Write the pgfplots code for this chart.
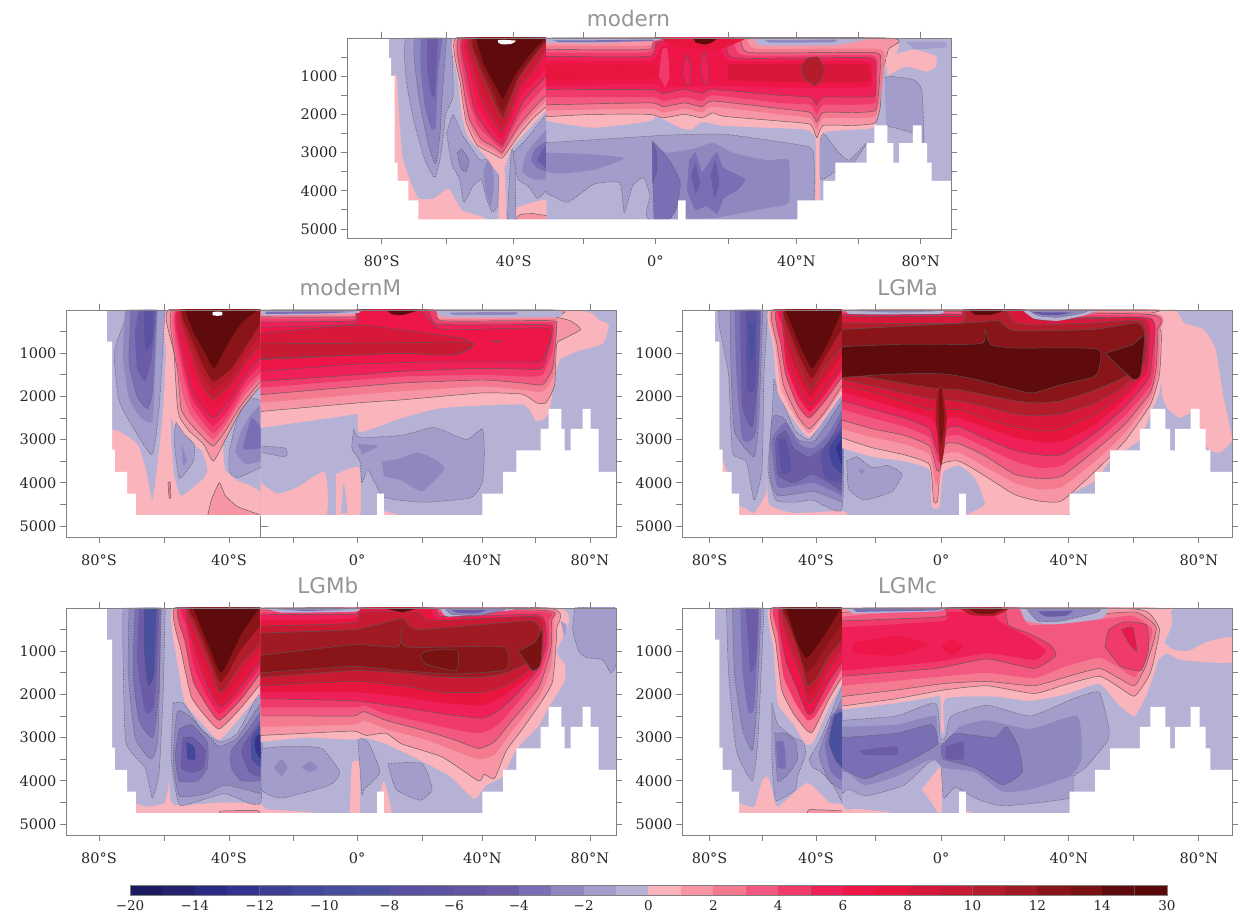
\documentclass[border=0pt]{standalone}
\usepackage{fontspec}
\setmainfont{DejaVu Serif}
\newfontfamily\tf{DejaVu Sans}
\usepackage{pgfplots}
\pgfplotsset{compat=1.18}
\definecolor{b1}{HTML}{B5B2D6}\definecolor{b2}{HTML}{A29DCB}\definecolor{b3}{HTML}{8E88BE}\definecolor{b4}{HTML}{7A6FB4}
\definecolor{b5}{HTML}{6C5CA8}\definecolor{b6}{HTML}{6355A4}\definecolor{b7}{HTML}{5B52A2}\definecolor{b8}{HTML}{4A4F9E}
\definecolor{b9}{HTML}{43479B}\definecolor{b10}{HTML}{32328F}\definecolor{b11}{HTML}{2A2A85}\definecolor{b12}{HTML}{22226F}
\definecolor{b13}{HTML}{1B1B62}\definecolor{b14}{HTML}{474EA0}\definecolor{b15}{HTML}{5850A0}\definecolor{b16}{HTML}{3D3F97}
\definecolor{r1}{HTML}{FAB4BC}\definecolor{r2}{HTML}{F795A5}\definecolor{r3}{HTML}{F47A90}\definecolor{r4}{HTML}{F25880}
\definecolor{r5}{HTML}{F03A6A}\definecolor{r6}{HTML}{EF2058}\definecolor{r7}{HTML}{EE1548}\definecolor{r8}{HTML}{E8153F}
\definecolor{r9}{HTML}{D8183A}\definecolor{r10}{HTML}{C81A32}\definecolor{r11}{HTML}{B21C2B}\definecolor{r12}{HTML}{A01A24}
\definecolor{r13}{HTML}{8A1518}\definecolor{r14}{HTML}{7A1212}\definecolor{r15}{HTML}{5F0A0C}\definecolor{r16}{HTML}{5A0808}
\newcommand{\Q}[2]{\addplot[fill=#1,draw=none] coordinates {#2};}
\newcommand{\F}[2]{\addplot[smooth,tension=.3,fill=#1,draw=none] coordinates {#2};}
\newcommand{\K}[2]{\addplot[smooth,tension=.3,fill=#1,draw=black!65,line width=.45pt] coordinates {#2};}
\newcommand{\D}[2]{\addplot[smooth,tension=.3,fill=#1,draw=black!65,line width=.45pt,dash pattern=on 1.4pt off 1.2pt] coordinates {#2};}
\pgfplotsset{pan/.style={scale only axis,y dir=reverse,axis on top,ymin=0,
  ytick={1000,2000,3000,4000,5000},minor ytick={500,1500,2500,3500,4500},
  tick align=outside,major tick length=6pt,minor tick length=6pt,
  axis line style={gray,line width=.8pt},every tick/.style={gray,line width=.8pt},
  every minor tick/.style={gray,line width=.8pt},
  tick label style={font=\fontsize{14.5}{16}\selectfont,text=black!85},
  xticklabel style={yshift=-8pt},
  yticklabel style={/pgf/number format/assume math mode=true,/pgf/number format/1000 sep={}},
  xticklabels={80°S,,40°S,,0°,,40°N,,80°N},
  title style={font=\tf\fontsize{21.5}{24}\selectfont,text=black!42,anchor=south,inner sep=0pt,yshift=8pt}},
 lpan/.style={pan,width=550pt,height=227pt,xmin=163,xmax=1533,ymax=5255,xtick={245,407,569,730,888,1050,1200,1332,1468}},
 rpan/.style={pan,width=550pt,height=227pt,xmin=157,xmax=1552,ymax=5255,xtick={227,362,497,648,814,974,1138,1303,1468}}}
\newcommand{\landTop}{\Q{white}{(130,0)(226,0)(226,520)(232,520)(232,1000)(240,1000)(240,3260)(247,3260)(247,3740)(272,3740)(272,4250)(295,4250)(295,4750)(895,4750)(895,4250)(912,4250)(912,4750)(1170,4750)(1170,4250)(1230,4250)(1230,3740)(1258,3740)(1258,3260)(1330,3260)(1330,2750)(1348,2750)(1348,2290)(1378,2290)(1378,2750)(1392,2750)(1392,3260)(1405,3260)(1405,2750)(1437,2750)(1437,2290)(1457,2290)(1457,2750)(1470,2750)(1470,3260)(1480,3260)(1480,3740)(1525,3740)(1525,5300)(130,5300)}}
\newcommand{\landL}{\Q{white}{(163,0)(265,0)(265,730)(278,730)(278,3230)(285,3230)(285,3750)(315,3750)(315,4250)(337,4250)(337,4750)(938,4750)(938,4250)(955,4250)(955,4750)(1200,4750)(1200,4250)(1252,4250)(1252,3750)(1285,3750)(1285,3250)(1345,3250)(1345,2750)(1365,2750)(1365,2290)(1397,2290)(1397,2750)(1405,2750)(1405,3250)(1420,3250)(1420,2750)(1450,2750)(1450,2290)(1470,2290)(1470,2750)(1490,2750)(1490,3750)(1533,3750)(1533,5300)(163,5300)}}
\newcommand{\landR}{\Q{white}{(157,0)(240,0)(240,730)(252,730)(252,3230)(260,3230)(260,3750)(283,3750)(283,4250)(302,4250)(302,4750)(860,4750)(860,4250)(877,4250)(877,4750)(1140,4750)(1140,4250)(1205,4250)(1205,3750)(1243,3750)(1243,3250)(1318,3250)(1318,2750)(1345,2750)(1345,2290)(1383,2290)(1383,2750)(1395,2750)(1395,3250)(1408,3250)(1408,2750)(1447,2750)(1447,2290)(1470,2290)(1470,2750)(1485,2750)(1485,3250)(1497,3250)(1497,3750)(1552,3750)(1552,5300)(157,5300)}}
\newcommand{\B}[3]{\addplot[fill=#3,draw=gray!50!#3,line width=.3pt] coordinates {(#1,0)(#2,0)(#2,1)(#1,1)};}
\begin{document}
\begin{tikzpicture}[x=1pt,y=1pt]
\path[use as bounding box] (0,0) rectangle (1239,916);
%% ---------- modern
\begin{axis}[pan,at={(347pt,678pt)},anchor=south west,width=604pt,height=200pt,xmin=130,xmax=1525,ymax=5236,
 xtick={210,360,515,675,842,1012,1168,1312,1455},title={modern},title style={at={(axis description cs:.466,1)},yshift=-3pt}]
\Q{b1}{(226,0)(1525,0)(1525,5000)(226,5000)}
\F{r1}{(232,1000)(245,1000)(250,2000)(258,3100)(275,3700)(295,4200)(330,4200)(365,3950)(395,4500)(450,4750)(225,4800)}
\F{r1}{(480,4800)(482,3600)(488,3100)(495,3600)(498,4800)}
\F{r1}{(520,4800)(522,4450)(560,4300)(590,4250)(590,4800)}
\K{r2}{(590,4650)(560,4600)(530,4620)(522,4800)(590,4800)}
\D{b2}{(372,0)(375,1500)(358,2000)(348,3000)(333,3650)(310,3200)(285,2200)(268,1200)(262,400)(265,0)}
\D{b3}{(360,0)(350,1500)(345,2500)(335,3300)(318,2800)(295,1500)(285,500)(285,0)}
\F{b4}{(350,0)(340,1000)(335,2300)(325,2400)(310,1800)(300,800)(300,0)}
\F{b5}{(340,0)(338,500)(333,1500)(325,1500)(315,800)(315,0)}
\D{b2}{(360,2500)(375,2000)(395,2500)(430,3100)(440,3200)(480,3100)(480,3500)(478,4400)(465,4550)(452,4200)(440,3700)(420,3900)(400,4300)(390,3700)(372,3300)(360,2500)}
\D{b3}{(385,3000)(395,2900)(412,3200)(405,3500)(392,3400)(385,3000)}
\F{b3}{(445,3500)(460,3100)(470,3800)(462,4400)(450,4000)}
\D{b2}{(500,4800)(505,3700)(510,2900)(518,3200)(520,4800)}
\D{b2}{(590,4000)(570,4200)(550,3900)(525,3700)(518,3300)(515,3000)(540,2700)(590,2000)}
\F{b3}{(590,3700)(560,3700)(535,3500)(545,3000)(590,2400)}
\F{b4}{(590,3500)(570,3400)(555,3200)(565,2900)(590,2700)}
\F{b5}{(590,3400)(570,3200)(578,3000)(590,2800)}
\F{r1}{(590,1900)(540,2500)(510,2900)(485,3600)(450,3100)(410,2600)(395,2000)(385,1000)(378,0)(590,0)}
\K{r2}{(590,1800)(560,2100)(530,2500)(505,2900)(488,3150)(470,3050)(430,2800)(405,2200)(392,1200)(382,0)(590,0)}
\F{r3}{(590,1650)(560,1975)(530,2375)(505,2800)(488,3075)(470,2950)(435,2725)(408,2150)(395,1200)(386,0)(590,0)}
\K{r4}{(590,1500)(560,1850)(530,2250)(505,2700)(488,3000)(470,2850)(440,2650)(412,2100)(398,1200)(390,0)(590,0)}
\F{r5}{(590,1250)(562,1575)(532,1975)(507,2500)(488,2900)(462,2650)(432,2280)(410,1550)(395,0)(590,0)}
\K{r6}{(590,1000)(565,1300)(535,1700)(510,2300)(488,2800)(455,2450)(425,1900)(408,1000)(400,0)(590,0)}
\F{r7}{(590,800)(565,1100)(533,1500)(510,2130)(488,2650)(460,2300)(432,1750)(414,900)(405,0)(590,0)}
\K{r9}{(590,300)(565,800)(530,1300)(510,1900)(488,2450)(465,2100)(440,1600)(420,800)(410,0)(590,0)}
\F{r10}{(590,250)(560,750)(528,1230)(508,1830)(489,2340)(470,1980)(447,1470)(425,750)(414,0)(590,0)}
\K{r12}{(590,100)(555,600)(525,1100)(505,1700)(490,2100)(475,1800)(455,1300)(432,700)(420,0)(590,0)}
\F{r13}{(590,70)(555,530)(525,1020)(504,1570)(490,1930)(477,1650)(460,1200)(438,680)(424,0)(590,0)}
\F{r15}{(588,0)(555,400)(525,850)(503,1300)(490,1600)(480,1400)(465,1100)(445,650)(428,0)}
\F{white}{(478,60)(490,50)(520,70)(510,150)(490,170)(480,130)}
%% right sector
\D{b2}{(590,4050)(640,4300)(700,3830)(760,3790)(770,4570)(790,3870)(815,3650)(830,4130)(835,4800)(1170,4800)(1208,4250)(1208,3090)(1190,2830)(1000,2520)(850,2550)(830,2570)(590,2740)}
\F{b3}{(590,3500)(620,3550)(700,3450)(770,3150)(700,3050)(590,3000)}
\F{b3}{(835,2800)(870,3000)(930,2900)(975,2750)(1020,3000)(1100,3200)(1150,3200)(1150,4300)(1100,4450)(985,4700)(910,4700)(880,4000)(835,3800)}
\D{b4}{(835,2700)(860,3000)(880,3300)(900,3800)(890,4500)(870,4800)(840,4800)(835,2700)}
\F{b4}{(920,3200)(935,3000)(950,3500)(975,3100)(985,3000)(1000,3400)(1050,3700)(1030,4000)(1000,4200)(985,4600)(960,4400)(935,4500)(915,4000)}
\D{b5}{(835,2700)(845,3000)(845,3500)(835,3800)}
\F{b5}{(925,3600)(935,3300)(945,3800)(935,4100)}
\F{b5}{(970,3600)(980,3200)(990,3800)(978,4200)}
\D{b2}{(1265,3000)(1230,2500)(1215,3000)(1225,3700)(1258,3500)(1300,3260)(1330,2750)(1290,3200)(1265,3000)}
\F{r1}{(590,2170)(700,2350)(830,2180)(845,2050)(900,2350)(925,2400)(950,2200)(1000,2300)(1100,2350)(1190,2400)(1212,2650)(1212,4250)(1222,4250)(1222,2650)(1240,2450)(1300,2400)(1350,2300)(1360,1000)(1380,0)(590,0)}
\K{r2}{(590,2060)(700,2000)(830,2000)(860,2090)(910,2000)(950,2090)(975,1960)(1000,2050)(1130,2175)(1200,2260)(1215,2610)(1230,2290)(1300,2290)(1350,2220)(1362,1780)(1365,1000)(1380,300)(1375,0)(590,0)}
\F{r3}{(590,1900)(830,1850)(860,1950)(910,1850)(950,1950)(975,1800)(1130,2000)(1200,2100)(1215,2400)(1230,2100)(1300,2100)(1350,2050)(1362,1600)(1372,500)(1350,280)(1075,280)(1045,0)(845,0)(825,200)(590,200)}
\K{r4}{(590,1750)(830,1700)(860,1800)(910,1700)(950,1800)(975,1650)(1130,1850)(1200,1950)(1215,2200)(1230,1950)(1300,1950)(1350,1900)(1358,1400)(1362,600)(1345,380)(1060,380)(1030,0)(845,0)(825,300)(590,300)}
\F{r5}{(590,1550)(830,1550)(860,1650)(910,1550)(950,1650)(975,1500)(1130,1700)(1200,1750)(1215,2000)(1230,1750)(1300,1750)(1350,1700)(1352,1250)(1355,700)(1335,450)(1045,450)(1015,0)(848,0)(825,380)(590,380)}
\K{r6}{(590,1350)(830,1350)(860,1450)(910,1350)(950,1450)(975,1350)(1130,1500)(1200,1550)(1215,1750)(1230,1550)(1300,1550)(1350,1500)(1350,800)(1335,520)(1025,520)(1000,100)(850,100)(828,480)(590,480)}
\F{r7}{(590,1250)(835,1200)(860,1300)(980,1250)(1130,1300)(1300,1300)(1340,1250)(1342,800)(1320,600)(1020,600)(985,200)(860,200)(830,600)(590,600)}
\F{r8}{(590,1100)(835,1050)(835,700)(590,700)}
\F{r9}{(1010,1100)(1130,1150)(1330,1150)(1335,800)(1320,680)(1010,680)}
\F{r5}{(850,1000)(858,300)(870,300)(875,1000)(865,1300)}
\K{r6}{(905,900)(915,450)(925,800)(925,1100)(915,1250)(905,900)}
\K{r6}{(945,800)(955,350)(965,800)(965,1150)(955,1200)(945,800)}
\F{r8}{(860,0)(1045,0)(1025,150)(990,300)(940,300)(865,150)}
\F{r15}{(930,0)(985,0)(970,130)(955,170)(935,120)}
\K{r11}{(1178,800)(1190,550)(1218,500)(1232,800)(1225,1100)(1210,1250)(1185,1050)(1178,800)}
\F{b1}{(590,30)(830,10)(850,60)(700,140)(590,120)}
\F{b4}{(605,60)(700,60)(830,40)(830,80)(700,110)(620,110)}
\F{b1}{(1070,0)(1085,190)(1250,190)(1300,110)(1345,0)}
\F{b3}{(1095,60)(1110,120)(1250,110)(1262,40)}
\F{r1}{(1375,500)(1440,300)(1490,480)(1490,750)(1470,880)(1420,750)(1378,1000)}
\D{b2}{(1372,1050)(1385,1000)(1440,1100)(1458,1400)(1462,2900)(1437,2500)(1375,2300)}
\F{b2}{(1420,100)(1510,100)(1510,250)(1440,300)}
\landTop
\end{axis}
%% ---------- modernM
\begin{axis}[lpan,at={(66pt,379pt)},anchor=south west,title={modernM},title style={at={(axis description cs:.517,1)}}]
\Q{b1}{(265,0)(1533,0)(1533,5000)(265,5000)}
\F{r1}{(648,4800)(200,4800)(270,2800)(340,3100)(362,3700)(378,4400)(392,3500)(405,2300)(412,1000)(415,0)(648,0)}
\D{b2}{(410,0)(405,730)(395,2270)(378,3350)(335,2800)(295,2100)(283,1000)(305,350)(320,0)}
\F{b3}{(392,0)(385,1500)(378,2580)(350,2500)(320,2050)(305,1100)(310,0)}
\D{b4}{(388,0)(378,1900)(365,2280)(340,2000)(320,1200)(325,0)}
\F{b5}{(388,0)(375,1200)(360,1650)(340,1350)(335,500)(345,0)}
\F{b7}{(380,0)(378,730)(360,960)(358,0)}
\F{b1}{(425,2500)(445,2900)(500,3250)(515,3700)(505,3900)(450,4300)(432,3800)(425,3000)}
\D{b2}{(437,2600)(460,2900)(482,3100)(480,3500)(445,3900)(432,3000)(437,2600)}
\F{b3}{(450,3100)(465,3500)(455,3600)}
\F{b1}{(648,4200)(620,4050)(590,3950)(560,3700)(555,3100)(575,2300)(648,1800)}
\D{b2}{(648,3650)(590,3880)(570,3730)(570,3270)(590,2500)(620,2040)(648,2100)}
\F{b3}{(648,3500)(610,3570)(585,3270)(600,2800)(625,2400)(648,2200)}
\F{b4}{(648,3200)(605,3230)(610,2960)(625,2500)(648,2700)}
\K{r2}{(648,1750)(600,2300)(560,3000)(530,3500)(505,3100)(470,2800)(447,2500)(440,2200)(432,1000)(418,0)(648,0)}
\K{r3}{(648,1650)(600,2200)(560,2800)(530,3150)(505,2950)(470,2600)(450,2300)(442,1500)(428,0)(648,0)}
\F{r4}{(648,1550)(605,2000)(562,2650)(530,3000)(502,2750)(472,2400)(450,1800)(433,0)(648,0)}
\F{r5}{(648,1450)(610,1800)(565,2500)(530,2850)(500,2550)(475,2200)(450,1300)(438,0)(648,0)}
\F{r6}{(648,1270)(610,1650)(568,2300)(530,2680)(500,2380)(475,2000)(452,1150)(441,0)(648,0)}
\K{r7}{(648,1100)(610,1500)(570,2100)(530,2500)(500,2200)(475,1800)(455,1000)(445,0)(648,0)}
\F{r8}{(648,950)(610,1350)(572,1900)(530,2280)(500,1950)(476,1450)(452,500)(447,0)(648,0)}
\K{r10}{(648,800)(610,1200)(575,1700)(530,2050)(500,1700)(478,1100)(450,0)(648,0)}
\F{r11}{(648,550)(610,1020)(575,1520)(530,1850)(503,1500)(478,900)(452,0)(648,0)}
\F{r13}{(648,300)(610,850)(575,1350)(530,1650)(505,1300)(478,700)(455,0)(648,0)}
\F{r15}{(640,0)(600,300)(565,800)(532,1350)(510,1000)(480,500)(460,0)}
\F{white}{(528,50)(540,35)(552,50)(552,120)(540,135)(528,120)}
\K{r2}{(515,4800)(525,4400)(545,4000)(560,4300)(590,4550)(648,4750)(648,4800)}
\K{r3}{(420,4350)(417,4000)(423,4000)(424,4350)(420,4350)}
%% right sector
\F{r1}{(648,4000)(690,4250)(740,4100)(808,3750)(808,4800)(648,4800)}
\F{r1}{(835,3800)(893,3650)(895,4800)(835,4800)}
\F{b1}{(848,4700)(855,4000)(865,4700)}
\F{r1}{(955,4650)(1010,4800)(955,4800)}
\D{b2}{(880,2750)(895,2950)(1000,2900)(1080,2720)(1160,3000)(1200,2750)(1205,3300)(1200,4000)(1170,4350)(1060,4450)(990,4400)(950,4300)(915,3700)(900,4000)(895,3500)(875,3200)(880,2750)}
\F{b3}{(890,3100)(940,3150)(900,3350)}
\F{b3}{(950,3500)(990,3450)(1040,3300)(1090,3500)(1105,3700)(1050,4200)(1000,3950)(955,3850)}
\D{b2}{(650,3150)(710,3200)(710,3400)(650,3300)}
\F{r1}{(648,2730)(880,2420)(890,2400)(895,2830)(1000,2500)(1100,2270)(1300,2190)(1335,2580)(1365,2400)(1385,1400)(1395,1130)(1440,950)(1500,780)(1515,350)(1490,230)(1420,0)(648,0)}
\K{r2}{(648,2350)(890,2150)(1000,2080)(1200,1920)(1300,1950)(1335,2150)(1358,2150)(1380,1750)(1385,800)(1400,680)(1445,450)(1420,250)(1380,150)(1380,0)(648,0)}
\F{r3}{(648,2150)(890,1960)(1000,1880)(1200,1770)(1300,1850)(1350,1890)(1378,1500)(1385,300)(1370,200)(1090,200)(1075,0)(885,0)(880,120)(648,120)}
\K{r4}{(648,1960)(890,1770)(1000,1690)(1200,1620)(1300,1690)(1350,1730)(1375,1350)(1385,400)(1370,250)(1100,250)(1078,0)(885,0)(880,160)(648,160)}
\F{r5}{(648,1800)(890,1620)(1000,1540)(1200,1500)(1300,1540)(1350,1500)(1375,950)(1380,350)(1360,280)(1100,280)(1075,0)(885,0)(880,200)(648,200)}
\K{r6}{(648,1650)(890,1500)(1000,1420)(1200,1350)(1300,1370)(1350,1350)(1370,730)(1375,400)(1355,340)(1090,330)(1060,0)(890,0)(880,250)(648,280)}
\K{r7}{(648,1420)(890,1250)(1100,1200)(1300,1200)(1345,1200)(1365,800)(1360,420)(1100,450)(1040,0)(890,0)(880,330)(648,400)}
\K{r9}{(648,1150)(890,1040)(1000,1000)(1130,1040)(1175,850)(1150,650)(1015,480)(890,350)(648,540)}
\K{r10}{(648,1120)(890,1040)(1000,1000)(1130,1040)(1175,750)(890,770)(648,770)}
\K{r8}{(1225,720)(1240,700)(1250,720)(1240,760)(1225,720)}
\F{r15}{(960,0)(1040,0)(1000,120)(975,100)}
\F{b1}{(650,20)(885,10)(880,80)(650,130)}
\F{b4}{(660,40)(800,30)(880,40)(800,80)(660,90)}
\F{b1}{(1085,0)(1110,160)(1390,160)(1390,0)}
\F{b3}{(1120,60)(1130,110)(1280,110)(1285,40)}
\landL
\addplot[gray,line width=.8pt] coordinates {(648,4760)(648,5255)};
\addplot[gray,line width=.8pt] coordinates {(648,5000)(665,5000)};
\end{axis}
%% ---------- LGMa
\begin{axis}[rpan,at={(682pt,379pt)},anchor=south west,title={LGMa},title style={at={(axis description cs:.41,1)}}]
\Q{b1}{(240,0)(1552,0)(1552,5000)(240,5000)}
\F{r1}{(240,3100)(270,3700)(290,4450)(320,4600)(340,4700)(370,4250)(372,3800)(378,4500)(440,4700)(563,4650)(563,4800)(240,4800)}
\D{b2}{(375,0)(365,1500)(360,3700)(340,4400)(320,3500)(285,3300)(275,1500)(252,400)(250,0)}
\D{b3}{(362,0)(352,2500)(340,3400)(290,2800)(280,1000)(280,0)}
\F{b4}{(358,0)(345,2800)(310,3000)(295,1500)(290,0)}
\D{b5}{(355,0)(350,1500)(335,2700)(310,2200)(305,0)}
\F{b7}{(348,0)(342,1800)(322,1800)(318,0)}
\F{b8}{(325,300)(330,1200)(340,1000)(342,300)}
\D{b2}{(390,1600)(415,2200)(445,2800)(480,3000)(510,2600)(563,1950)(563,4600)(490,4400)(445,4450)(395,4400)(375,3700)(385,2500)(390,1600)}
\D{b3}{(563,4450)(490,4200)(400,4300)(380,3800)(385,2500)(415,2500)(450,3000)(490,3050)(520,2700)(563,2100)}
\F{b4}{(563,4300)(490,4000)(400,4100)(385,3000)(420,2600)(455,3100)(490,3200)(525,2900)(563,2300)}
\D{b5}{(563,4200)(490,3800)(440,4000)(400,3800)(395,3000)(420,2800)(440,3200)(480,3400)(525,3100)(563,2500)}
\F{b7}{(400,3000)(420,3000)(435,3700)(410,3800)}
\F{b7}{(563,4000)(520,3900)(510,3300)(563,2700)}
\F{b9}{(563,3800)(540,3600)(530,3200)(563,2800)}
\F{b10}{(563,3600)(548,3200)(563,3000)}
\F{r1}{(563,1950)(520,2500)(480,2950)(440,2550)(400,1900)(388,800)(378,0)(563,0)}
\F{r2}{(563,1850)(520,2420)(480,2850)(445,2500)(408,1820)(393,800)(383,0)(563,0)}
\K{r3}{(563,1750)(520,2350)(480,2750)(450,2450)(415,1750)(398,800)(388,0)(563,0)}
\K{r5}{(563,1550)(520,2100)(480,2500)(450,2200)(420,1500)(408,800)(398,0)(563,0)}
\F{r7}{(563,1400)(520,1950)(481,2350)(452,2000)(422,1300)(412,400)(406,0)(563,0)}
\K{r8}{(563,1250)(520,1800)(482,2200)(455,1800)(425,1100)(415,0)(563,0)}
\F{r10}{(563,1050)(520,1550)(483,2000)(457,1600)(427,900)(416,0)(563,0)}
\K{r11}{(563,850)(520,1300)(485,1800)(460,1400)(430,700)(417,0)(563,0)}
\F{r13}{(563,430)(522,1050)(486,1570)(457,1100)(425,350)(418,0)(563,0)}
\F{r15}{(563,0)(525,800)(487,1350)(455,800)(420,0)}
\K{r13}{(480,4775)(480,4760)(563,4760)(563,4775)}
%% right sector
\F{r1}{(1375,0)(1410,0)(1430,300)(1480,450)(1510,900)(1530,2000)(1552,3000)(1520,3300)(1490,3200)(1450,2400)(1420,2500)(1390,2300)(1375,2000)}
\F{r1}{(563,3200)(640,3400)(720,3500)(785,3700)(790,4550)(810,4550)(820,3750)(860,3600)(900,3900)(925,4500)(870,4800)(970,4800)(1140,4720)(1140,4300)(1205,3950)(1243,3500)(1318,3000)(1345,2400)(1370,1800)(1375,0)(563,0)}
\F{b1}{(820,4700)(825,3800)(860,3650)(895,3900)(915,4500)(860,4700)}
\D{b2}{(575,3500)(600,3400)(640,3650)(680,3600)(715,3800)(690,4200)(620,4400)(580,4150)(575,3500)}
\F{b3}{(605,3700)(620,3700)(612,3800)}
\K{r2}{(563,2960)(640,3190)(720,3350)(785,3580)(795,4420)(805,4420)(815,3580)(860,3500)(920,3810)(1000,4270)(1060,4420)(1120,4420)(1205,3730)(1280,3040)(1345,2190)(1368,1500)(1372,500)(1340,100)(1340,0)(563,0)}
\F{r3}{(563,2750)(640,2950)(720,3100)(785,3350)(800,4000)(810,4000)(820,3350)(860,3300)(920,3600)(1000,4000)(1060,4150)(1120,4100)(1205,3500)(1280,2850)(1345,2050)(1365,1400)(1368,500)(1340,60)(563,0)}
\K{r4}{(563,2550)(640,2750)(720,2900)(785,3150)(803,3700)(812,3700)(825,3100)(860,3100)(920,3350)(1000,3800)(1060,3900)(1120,3850)(1205,3250)(1280,2650)(1345,1900)(1360,1300)(1362,500)(1335,100)(563,0)}
\F{r5}{(563,2300)(640,2500)(720,2700)(785,2950)(805,3500)(815,3500)(825,2950)(860,2900)(920,3150)(1000,3500)(1060,3650)(1120,3600)(1205,3050)(1280,2450)(1345,1750)(1356,1200)(1356,500)(1335,150)(1000,100)(563,50)}
\K{r6}{(563,2100)(640,2300)(720,2500)(785,2750)(805,3300)(815,3300)(828,2750)(860,2700)(920,2950)(1000,3250)(1060,3350)(1120,3350)(1205,2850)(1280,2250)(1340,1600)(1350,1000)(1345,200)(1060,180)(1030,0)(870,0)(860,100)(563,100)}
\F{r8}{(563,1900)(785,2500)(808,3000)(815,3000)(830,2500)(860,2500)(920,2700)(1000,2950)(1060,3050)(1120,3050)(1205,2650)(1280,2050)(1335,1450)(1342,800)(1330,200)(1060,200)(1025,0)(870,0)(860,130)(563,130)}
\K{r9}{(563,1750)(640,1900)(785,2300)(860,2300)(920,2500)(1000,2700)(1060,2800)(1120,2750)(1205,2400)(1280,1900)(1335,1300)(1340,800)(1330,200)(1200,200)(1060,230)(1020,0)(870,0)(860,150)(563,150)}
\K{r11}{(563,1600)(785,2050)(860,2100)(1000,2400)(1060,2450)(1120,2400)(1205,2150)(1280,1750)(1330,1200)(1335,600)(1320,250)(1200,300)(1060,350)(1000,300)(975,0)(880,0)(860,300)(563,300)}
\K{r13}{(563,1450)(785,1800)(860,1850)(1000,2100)(1060,2150)(1120,2100)(1205,1850)(1280,1550)(1325,1100)(1330,500)(1310,300)(1200,450)(1000,480)(960,250)(880,300)(563,450)}
\K{r15}{(563,1560)(700,1480)(820,1480)(900,1600)(1040,1920)(1110,1750)(1200,1550)(1215,1350)(1210,900)(1000,880)(940,800)(925,450)(915,780)(700,800)(563,850)}
\K{r15}{(1230,1000)(1300,1600)(1320,1500)(1330,600)(1300,800)(1250,950)(1230,1000)}
\F{r12}{(803,1900)(815,1750)(828,2500)(820,3350)(812,3600)(806,3000)(800,2500)}
\F{r14}{(808,1900)(815,1800)(822,2500)(817,3000)(812,3100)(808,2500)}
\F{r15}{(885,0)(975,0)(940,110)(900,110)}
\F{b1}{(1020,0)(1050,200)(1110,250)(1180,120)(1215,0)}
\D{b3}{(1035,0)(1060,130)(1110,170)(1170,80)(1190,0)}
\F{b6}{(1045,50)(1070,110)(1110,120)(1150,60)}
\F{b1}{(570,10)(810,10)(810,90)(640,100)(580,90)}
\F{b3}{(590,20)(700,20)(800,30)(700,60)}
\landR
\end{axis}
%% ---------- LGMb
\begin{axis}[lpan,at={(66pt,81pt)},anchor=south west,title={LGMb},title style={at={(axis description cs:.476,1)}}]
\Q{b1}{(265,0)(1533,0)(1533,5000)(265,5000)}
\F{r1}{(275,3100)(285,3900)(335,4500)(370,4600)(410,4500)(420,4000)(430,4550)(560,4500)(648,4550)(648,4800)(275,4800)}
\D{b2}{(410,0)(405,2000)(395,3800)(378,4400)(360,3700)(312,3100)(305,1000)(305,0)}
\D{b3}{(400,0)(392,3000)(375,3500)(335,3000)(318,1500)(320,0)}
\D{b4}{(398,0)(395,1800)(380,3000)(345,2600)(330,1500)(335,0)}
\F{b5}{(395,0)(392,1000)(382,2300)(360,2400)(340,1200)(345,0)}
\D{b8}{(388,0)(382,1500)(368,1800)(358,1000)(358,0)}
\D{b2}{(430,2200)(455,2200)(500,2800)(545,3100)(590,2900)(648,2000)(648,4500)(560,4300)(500,4450)(445,4550)(425,3500)(430,2200)}
\D{b3}{(648,4300)(560,4100)(510,4300)(445,4350)(430,3500)(440,2400)(470,2500)(510,2900)(545,3200)(590,3000)(648,2200)}
\D{b4}{(445,2800)(475,2700)(515,3100)(515,3700)(490,4000)(445,4000)(435,3400)(445,2800)}
\D{b4}{(648,4000)(600,4000)(575,3700)(575,3300)(610,2900)(648,2400)}
\D{b5}{(455,3000)(480,3000)(510,3300)(505,3700)(480,3800)(450,3700)(455,3000)}
\D{b5}{(648,3900)(620,3800)(600,3300)(625,2900)(648,2600)}
\F{b8}{(648,3700)(625,3500)(625,3000)(648,2700)}
\F{b9}{(462,3100)(482,3200)(485,3500)(465,3500)}
\F{b10}{(648,3500)(635,3300)(635,3000)(648,2900)}
\F{r1}{(648,1950)(600,2500)(545,3050)(505,2700)(460,2200)(445,1500)(430,0)(648,0)}
\K{r3}{(648,1750)(600,2300)(545,2800)(510,2500)(475,2050)(450,1000)(435,0)(648,0)}
\K{r5}{(648,1500)(600,2100)(545,2600)(510,2200)(480,1700)(460,800)(445,0)(648,0)}
\F{r6}{(648,1350)(600,1950)(546,2450)(512,2000)(482,1350)(462,400)(455,0)(648,0)}
\K{r8}{(648,1200)(600,1800)(548,2300)(515,1800)(485,1000)(465,0)(648,0)}
\F{r9}{(648,1000)(600,1550)(548,2120)(517,1550)(487,800)(467,0)(648,0)}
\K{r11}{(648,800)(600,1300)(548,1950)(520,1300)(490,600)(470,0)(648,0)}
\F{r13}{(648,400)(600,950)(549,1720)(520,1100)(485,300)(475,0)(648,0)}
\F{r15}{(645,0)(600,600)(550,1500)(520,900)(480,0)}
\K{r2}{(545,4750)(550,4700)(640,4690)(645,4750)}
%% right sector
\F{r1}{(648,4650)(800,4750)(800,4800)(648,4800)}
\F{r1}{(870,4800)(875,3600)(895,3600)(895,4800)}
\F{r1}{(940,4500)(955,4000)(975,4800)(940,4800)}
\D{b2}{(650,3250)(720,3200)(800,3250)(845,3800)(820,4100)(700,4400)(650,4200)(650,3250)}
\F{b3}{(680,3700)(700,3500)(715,3700)(700,3900)}
\F{b3}{(750,3700)(770,3550)(790,3700)(770,3800)}
\D{b2}{(890,3000)(915,3100)(945,3800)(905,4200)(900,4300)(890,3000)}
\D{b2}{(965,3600)(1050,3600)(1075,4200)(1045,4450)(985,4200)(965,3600)}
\F{r1}{(648,3100)(760,3000)(880,3050)(905,3000)(960,3150)(1040,3500)(1120,3900)(1180,4420)(1210,4100)(1250,3900)(1285,3270)(1340,2730)(1365,2300)(1405,1700)(1405,1300)(1385,1000)(1390,0)(648,0)}
\K{r2}{(648,2950)(760,2900)(880,2850)(910,2950)(960,2900)(1000,3150)(1100,3450)(1190,4000)(1205,3850)(1230,3950)(1260,3300)(1300,2800)(1345,2200)(1375,1700)(1385,500)(1360,0)(648,0)}
\F{r3}{(648,2750)(880,2700)(905,2600)(960,2800)(1060,3050)(1130,3300)(1190,3500)(1230,3400)(1270,2900)(1345,2000)(1372,1300)(1378,300)(1350,0)(648,0)}
\K{r4}{(648,2500)(760,2500)(880,2500)(905,2400)(960,2600)(1060,2850)(1130,3050)(1190,3250)(1230,3100)(1270,2650)(1340,1850)(1370,1000)(1372,300)(1345,50)(648,50)}
\F{r5}{(648,2300)(880,2300)(905,2250)(960,2450)(1100,2750)(1190,2900)(1240,2700)(1300,2050)(1345,1500)(1365,900)(1365,300)(1340,80)(648,100)}
\K{r6}{(648,2100)(880,2150)(1000,2300)(1100,2450)(1200,2550)(1245,2350)(1300,1850)(1340,1400)(1360,800)(1355,300)(1330,150)(1100,200)(1080,0)(900,0)(880,150)(648,150)}
\F{r8}{(648,1950)(880,1950)(1000,2050)(1100,2200)(1200,2250)(1250,2050)(1300,1700)(1345,1300)(1355,500)(1340,200)(1090,250)(1065,0)(900,0)(880,250)(648,270)}
\K{r10}{(648,1800)(880,1700)(1000,1800)(1100,1950)(1200,1950)(1255,1800)(1300,1550)(1345,1200)(1350,500)(1330,200)(1070,300)(1040,100)(900,100)(880,350)(648,420)}
\K{r12}{(648,1600)(880,1450)(1000,1500)(1100,1600)(1200,1600)(1260,1500)(1345,1100)(1345,600)(1320,300)(1040,500)(1000,250)(880,500)(648,580)}
\K{r13}{(648,1500)(880,1350)(1000,1450)(1130,1530)(1250,1450)(1265,1300)(1250,900)(1010,900)(1000,450)(990,900)(880,850)(648,1100)}
\K{r14}{(1045,1100)(1060,1300)(1135,1450)(1140,1000)(1110,950)(1060,1000)(1045,1100)}
\K{r14}{(1290,1000)(1325,1450)(1345,1300)(1350,500)(1330,800)(1290,1000)}
\F{r15}{(950,0)(1040,0)(1000,100)}
\F{b1}{(1095,0)(1115,200)(1270,50)(1280,0)}
\D{b3}{(1105,0)(1125,150)(1190,170)(1250,60)(1260,0)}
\F{b5}{(1125,50)(1140,120)(1190,120)(1210,50)}
\F{b1}{(660,10)(885,10)(880,90)(700,110)}
\F{b4}{(680,30)(800,30)(870,40)(760,70)}
\D{b2}{(1430,0)(1533,0)(1533,1300)(1520,1500)(1500,1200)(1460,1150)(1440,1000)(1425,500)(1430,0)}
\F{b2}{(1395,300)(1410,400)(1405,700)}
\landL
\end{axis}
%% ---------- LGMc
\begin{axis}[rpan,at={(682pt,81pt)},anchor=south west,title={LGMc},title style={at={(axis description cs:.41,1)}}]
\Q{b1}{(240,0)(1552,0)(1552,5000)(240,5000)}
\F{r1}{(252,3200)(262,3800)(285,4250)(300,4500)(340,4600)(360,4000)(375,3900)(385,4200)(400,4600)(475,4050)(530,4500)(563,4550)(563,4800)(252,4800)}
\D{b2}{(365,0)(350,3000)(335,4000)(295,3300)(275,1500)(270,0)}
\D{b3}{(358,0)(345,2500)(335,3300)(310,2800)(290,1500)(285,0)}
\F{b4}{(353,0)(352,500)(340,2300)(325,2400)(310,1400)(305,0)}
\F{b5}{(350,0)(345,1200)(330,1500)(325,800)(318,0)}
\D{b2}{(385,2200)(400,2700)(440,3000)(465,3100)(470,3400)(450,3900)(445,4200)(395,4450)(385,3500)(385,2200)}
\D{b3}{(392,2900)(420,2900)(445,3100)(450,3500)(430,3800)(400,4000)(392,2900)}
\F{b4}{(395,3100)(415,3100)(420,3700)(400,3700)}
\D{b2}{(563,4500)(540,4100)(510,3800)(490,3700)(480,3500)(510,3000)(563,1800)}
\D{b3}{(563,4200)(530,4000)(505,3400)(525,2800)(563,2100)}
\F{b4}{(563,4000)(535,3800)(520,3200)(535,2500)(563,2300)}
\D{b8}{(563,3700)(545,3500)(530,3100)(543,2500)(563,2400)}
\F{r1}{(563,1750)(530,2300)(490,3100)(470,3150)(440,2700)(400,2200)(390,1000)(380,0)(563,0)}
\K{r3}{(563,1600)(530,2100)(490,2850)(475,2850)(440,2450)(410,1900)(395,800)(385,0)(563,0)}
\F{r5}{(563,1400)(530,1950)(495,2500)(475,2600)(445,2200)(415,1600)(400,600)(392,0)(563,0)}
\K{r7}{(563,1250)(530,1700)(490,2400)(475,2450)(450,1900)(420,1200)(405,0)(563,0)}
\K{r9}{(563,1000)(530,1400)(500,2000)(478,2200)(455,1500)(425,800)(412,0)(563,0)}
\F{r10}{(563,880)(530,1250)(500,1800)(476,2000)(455,1300)(427,650)(413,0)(563,0)}
\K{r12}{(563,750)(530,1100)(500,1600)(475,1800)(455,1100)(430,500)(415,0)(563,0)}
\F{r13}{(563,370)(525,850)(495,1300)(472,1480)(452,950)(425,250)(417,0)(563,0)}
\F{r15}{(560,0)(520,600)(490,1000)(470,1150)(450,800)(420,0)}
\K{r2}{(475,4800)(480,4670)(563,4700)(563,4800)}
%% right sector
\F{r1}{(765,4200)(800,3800)(815,3700)(815,4800)(790,4500)}
\F{r1}{(563,4700)(600,4650)(700,4750)(700,4800)(563,4800)}
\F{r1}{(860,4800)(880,4700)(910,4800)}
\D{b2}{(563,2600)(700,2500)(800,2200)(812,3000)(825,3000)(840,2500)(930,2250)(1040,2500)(1150,2100)(1215,1950)(1240,2800)(1235,3100)(1180,3700)(1150,3900)(1140,4400)(970,4580)(900,4400)(850,4150)(820,4400)(812,3500)(780,3600)(720,4100)(625,4350)(580,4200)(563,4300)}
\F{b3}{(563,2750)(700,2700)(800,2500)(805,3100)(830,3100)(860,2750)(930,2600)(1040,2800)(1160,2500)(1170,3500)(1140,3900)(1040,4200)(970,4250)(900,3800)(820,3700)(790,3500)(700,3900)(620,4100)(575,3800)(563,3800)}
\D{b4}{(563,3000)(700,2900)(790,2700)(805,3150)(720,3600)(620,3950)(563,3700)}
\D{b4}{(815,3200)(850,2900)(950,3000)(980,2750)(1010,3200)(1020,3800)(970,4100)(900,3700)(820,3500)(815,3200)}
\F{b5}{(605,3300)(700,3200)(700,3400)(620,3400)}
\F{b5}{(825,3200)(870,3100)(870,3500)(825,3500)}
\F{r1}{(1368,700)(1400,950)(1440,1000)(1490,780)(1552,680)(1552,1250)(1480,1250)(1420,1200)(1385,1050)(1365,1200)}
\F{r1}{(1385,0)(1405,0)(1390,150)}
\F{r1}{(563,2350)(700,2200)(800,2050)(812,2050)(815,2850)(822,2850)(825,2100)(950,2050)(1040,2150)(1130,2000)(1215,1750)(1260,2200)(1305,2500)(1340,1900)(1370,1000)(1370,0)(563,0)}
\K{r2}{(563,2270)(700,2100)(820,1900)(930,1800)(1050,1980)(1130,1770)(1215,1580)(1260,1800)(1305,2040)(1345,1500)(1368,500)(1335,80)(1240,0)(563,0)}
\K{r3}{(563,2050)(700,1900)(820,1750)(930,1700)(1050,1800)(1130,1600)(1215,1400)(1260,1600)(1305,1800)(1335,1300)(1360,450)(1310,100)(1230,130)(1040,250)(1010,0)(820,0)(563,100)}
\F{r4}{(563,1800)(800,1600)(930,1500)(1050,1620)(1130,1350)(1215,1150)(1260,1350)(1305,1600)(1330,1200)(1350,500)(1300,180)(1230,250)(1040,400)(1005,0)(820,0)(563,200)}
\K{r5}{(563,1580)(800,1400)(930,1180)(1050,1400)(1105,1100)(1090,850)(1040,600)(985,400)(970,0)(830,0)(820,200)(563,300)}
\K{r5}{(1230,900)(1270,1350)(1320,1450)(1340,1000)(1335,400)(1280,320)(1240,500)(1230,900)}
\F{r6}{(563,1450)(800,1250)(930,1050)(1050,1200)(1080,1000)(1040,700)(960,300)(940,100)(830,100)(820,300)(563,450)}
\F{r7}{(590,800)(700,650)(780,850)(700,1100)(590,1050)}
\F{r7}{(840,700)(870,900)(840,1100)(815,900)}
\K{r7}{(1272,500)(1300,450)(1310,1000)(1290,800)(1272,500)}
\F{r11}{(860,0)(985,0)(950,180)(890,170)}
\F{r14}{(880,0)(975,0)(945,130)(905,130)}
\F{b1}{(1015,0)(1030,300)(1100,380)(1220,250)(1240,0)}
\D{b3}{(1030,0)(1060,300)(1120,300)(1210,100)(1220,0)}
\F{b5}{(1060,80)(1080,200)(1130,180)(1150,60)}
\F{b1}{(575,10)(815,10)(800,80)(590,130)}
\F{b4}{(590,20)(810,20)(790,60)(600,90)}
\landR
\end{axis}
%% ---------- colour bar
\begin{axis}[scale only axis,at={(130pt,21pt)},anchor=south west,width=1037pt,height=9.5pt,xmin=0,xmax=32,ymin=0,ymax=1,
 ytick=\empty,xtick={0,2,4,6,8,10,12,14,16,18,20,22,24,26,28,30,32},xticklabels={−20,−14,−12,−10,−8,−6,−4,−2,0,2,4,6,8,10,12,14,30},
 axis on top,axis line style={gray,line width=.6pt},major tick length=0pt,
 xticklabel style={yshift=-2pt},
 tick label style={font=\fontsize{13.5}{15}\selectfont,text=black!85}]
\B{0}{1}{b13}\B{1}{2}{b12}\B{2}{3}{b11}\B{3}{4}{b10}\B{4}{5}{b16}\B{5}{6}{b9}\B{6}{7}{b14}\B{7}{8}{b8}
\B{8}{9}{b15}\B{9}{10}{b7}\B{10}{11}{b6}\B{11}{12}{b5}\B{12}{13}{b4}\B{13}{14}{b3}\B{14}{15}{b2}\B{15}{16}{b1}
\B{16}{17}{r1}\B{17}{18}{r2}\B{18}{19}{r3}\B{19}{20}{r4}\B{20}{21}{r5}\B{21}{22}{r6}\B{22}{23}{r7}\B{23}{24}{r8}
\B{24}{25}{r9}\B{25}{26}{r10}\B{26}{27}{r11}\B{27}{28}{r12}\B{28}{29}{r13}\B{29}{30}{r14}\B{30}{31}{r15}\B{31}{32}{r16}
\end{axis}
\end{tikzpicture}
\end{document}
